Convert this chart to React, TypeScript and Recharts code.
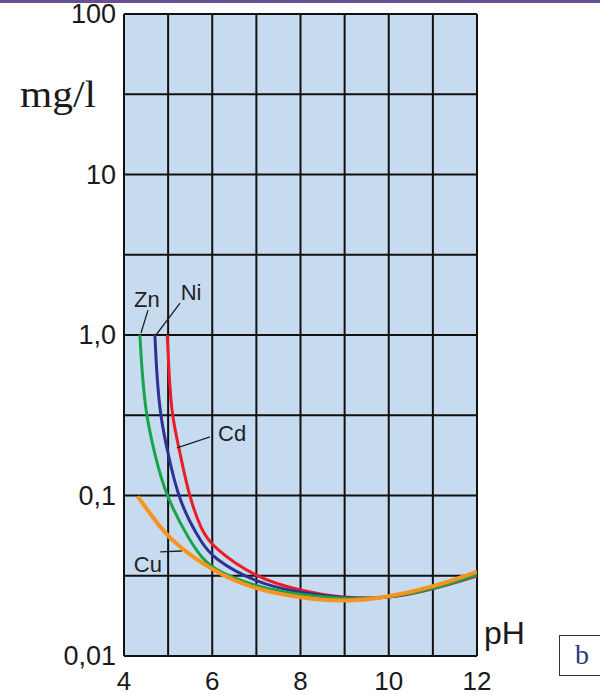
import React from "react";
import {
  LineChart,
  Line,
  XAxis,
  YAxis,
  CartesianGrid,
  ReferenceLine,
  ReferenceDot,
} from "recharts";

// residual metal concentration (mg/l) vs pH
const zn = [
  { ph: 4.36, v: 1.0 },
  { ph: 4.41, v: 0.58 },
  { ph: 4.5, v: 0.316 },
  { ph: 4.69, v: 0.184 },
  { ph: 4.94, v: 0.1 },
  { ph: 5.5, v: 0.0515 },
  { ph: 5.75, v: 0.0416 },
  { ph: 6, v: 0.0348 },
  { ph: 7, v: 0.0269 },
  { ph: 8, v: 0.024 },
  { ph: 9, v: 0.0226 },
  { ph: 10, v: 0.023 },
  { ph: 11, v: 0.026 },
  { ph: 12, v: 0.032 },
];

const ni = [
  { ph: 4.7, v: 1.0 },
  { ph: 4.74, v: 0.58 },
  { ph: 4.82, v: 0.316 },
  { ph: 4.99, v: 0.184 },
  { ph: 5.22, v: 0.1 },
  { ph: 5.5, v: 0.0675 },
  { ph: 5.75, v: 0.0515 },
  { ph: 6, v: 0.0408 },
  { ph: 7, v: 0.0284 },
  { ph: 8, v: 0.0247 },
  { ph: 9, v: 0.0228 },
  { ph: 10, v: 0.0228 },
  { ph: 11, v: 0.0262 },
  { ph: 12, v: 0.032 },
];

const cd = [
  { ph: 4.98, v: 1.0 },
  { ph: 5.02, v: 0.58 },
  { ph: 5.08, v: 0.316 },
  { ph: 5.27, v: 0.184 },
  { ph: 5.47, v: 0.1 },
  { ph: 5.75, v: 0.061 },
  { ph: 6, v: 0.0478 },
  { ph: 7, v: 0.0305 },
  { ph: 8, v: 0.0255 },
  { ph: 9, v: 0.0229 },
  { ph: 10, v: 0.0228 },
  { ph: 11, v: 0.026 },
  { ph: 12, v: 0.0315 },
];

const cu = [
  { ph: 4.31, v: 0.0985 },
  { ph: 4.66, v: 0.073 },
  { ph: 5, v: 0.054 },
  { ph: 6, v: 0.0336 },
  { ph: 7, v: 0.0258 },
  { ph: 8, v: 0.023 },
  { ph: 9, v: 0.0217 },
  { ph: 10, v: 0.0233 },
  { ph: 11, v: 0.0269 },
  { ph: 12, v: 0.0335 },
];

const xTicks = [4, 5, 6, 7, 8, 9, 10, 11, 12];
const xLabels = ["4", "", "6", "", "8", "", "10", "", "12"];
const yTicks = [0.01, 0.0316, 0.1, 0.316, 1, 3.16, 10, 31.6, 100];
const yLabels = ["0,01", "", "0,1", "", "1,0", "", "10", "", "100"];

// label anchors and leader lines, in data coordinates
const labels = [
  { name: "Zn", ph: 4.52, v: 1.67 },
  { name: "Ni", ph: 5.52, v: 1.85 },
  { name: "Cd", ph: 6.45, v: 0.245 },
  { name: "Cu", ph: 4.54, v: 0.0374 },
];
const leaders = [
  [{ x: 4.544, y: 1.43 }, { x: 4.385, y: 1.03 }],
  [{ x: 5.27, y: 1.58 }, { x: 4.725, y: 1.0 }],
  [{ x: 5.95, y: 0.232 }, { x: 5.2, y: 0.198 }],
  [{ x: 4.82, y: 0.0445 }, { x: 5.31, y: 0.0451 }],
];

const sans = "'Liberation Sans', Arial, sans-serif";
const serif = "'Liberation Serif', 'Times New Roman', serif";

const YTick = (p: any) => {
  const i = yTicks.indexOf(p.payload.value);
  const t = yLabels[i];
  if (!t) return <g />;
  return (
    <text x={p.x - 6} y={p.y} dy={9} textAnchor="end" fontSize={27} fill="#1a1a1a" fontFamily={sans}>
      {t}
    </text>
  );
};

const XTick = (p: any) => {
  const i = xTicks.indexOf(p.payload.value);
  const t = xLabels[i];
  if (!t) return <g />;
  return (
    <text x={p.x} y={p.y + 32} textAnchor="middle" fontSize={26} fill="#1a1a1a" fontFamily={sans}>
      {t}
    </text>
  );
};

export default function App() {
  return (
    <div style={{ position: "absolute", left: 0, top: 0, width: 600, height: 695, background: "#fff" }}>
      <div style={{ position: "absolute", left: 0, top: 0, width: 600, height: 3, background: "#6a4f94" }} />
      <LineChart
        width={600}
        height={695}
        margin={{ top: 14, right: 123, bottom: 0, left: 0 }}
      >
        <CartesianGrid fill="#c6dbef" stroke="#111" strokeWidth={2} strokeOpacity={1} />
        <XAxis
          dataKey="ph"
          type="number"
          domain={[4, 12]}
          ticks={xTicks}
          height={39}
          tickSize={0}
          tickLine={false}
          axisLine={{ stroke: "#111", strokeWidth: 2 }}
          tick={<XTick />}
          allowDataOverflow
        />
        <YAxis
          type="number"
          scale="log"
          domain={[0.01, 100]}
          ticks={yTicks}
          width={124}
          tickSize={0}
          tickLine={false}
          axisLine={{ stroke: "#111", strokeWidth: 2 }}
          tick={<YTick />}
          allowDataOverflow
        />
        <Line data={cd} dataKey="v" type="basis" stroke="#ec1c24" strokeWidth={3} dot={false} isAnimationActive={false} />
        <Line data={ni} dataKey="v" type="basis" stroke="#2e3192" strokeWidth={3} dot={false} isAnimationActive={false} />
        <Line data={zn} dataKey="v" type="basis" stroke="#17a44a" strokeWidth={3} dot={false} isAnimationActive={false} />
        <Line data={cu} dataKey="v" type="basis" stroke="#f7941d" strokeWidth={4} dot={false} isAnimationActive={false} />
        {leaders.map((s, i) => (
          <ReferenceLine key={i} segment={s} stroke="#222" strokeWidth={1.3} ifOverflow="visible" />
        ))}
        {labels.map((l) => (
          <ReferenceDot
            key={l.name}
            x={l.ph}
            y={l.v}
            r={1}
            ifOverflow="visible"
            shape={(p: any) => (
              <text x={p.cx} y={p.cy} dy={8} textAnchor="middle" fontSize={22} fill="#222" fontFamily={sans}>
                {l.name}
              </text>
            )}
          />
        ))}
      </LineChart>
      <div
        style={{
          position: "absolute",
          left: 20,
          top: 76,
          fontFamily: serif,
          fontSize: 37,
          color: "#1a1a1a",
          lineHeight: 1,
          transform: "scaleX(1.12)",
          transformOrigin: "left top",
        }}
      >
        mg/l
      </div>
      <div style={{ position: "absolute", left: 484, top: 617, fontFamily: sans, fontSize: 32, color: "#1a1a1a", lineHeight: 1 }}>
        pH
      </div>
      <div
        style={{
          position: "absolute",
          left: 559,
          top: 635,
          width: 44,
          height: 41,
          border: "1px solid #333",
          boxSizing: "border-box",
          fontFamily: serif,
          fontSize: 28,
          color: "#2d3a80",
          paddingLeft: 15,
          lineHeight: "38px",
        }}
      >
        b
      </div>
    </div>
  );
}
